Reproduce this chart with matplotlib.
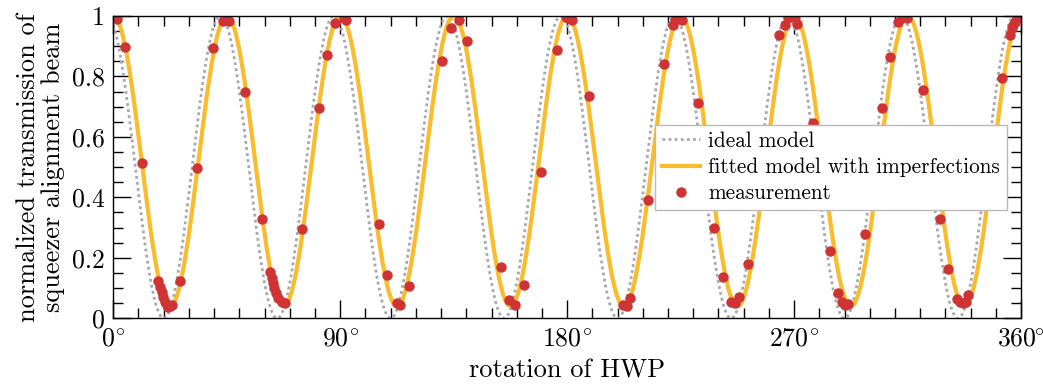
import numpy as np
import matplotlib
matplotlib.use("Agg")
import matplotlib.pyplot as plt
from matplotlib.ticker import MultipleLocator, FixedLocator, FixedFormatter

plt.rcParams['font.family'] = 'serif'
plt.rcParams['font.serif'] = ['cmr10']
plt.rcParams['mathtext.fontset'] = 'cm'
plt.rcParams['axes.formatter.use_mathtext'] = True

# measured points: HWP angle (deg) and normalized transmission
meas_angle = [0.0, 1.0, 1.5, 4.6, 11.3, 17.8, 18.5, 19.2, 19.8, 20.5, 21.2, 21.8, 22.5, 23.2,
              26.4, 33.1, 39.7, 43.6, 44.7, 46.0, 52.2, 59.1, 62.1, 62.8, 63.2, 63.7, 64.5,
              65.4, 66.8, 68.1, 74.9, 81.6, 84.9, 88.0, 91.5, 92.3, 105.4, 108.7, 112.4,
              113.7, 117.2, 130.5, 133.9, 137.2, 140.4, 153.6, 157.0, 159.3, 162.8, 169.5,
              175.8, 179.7, 180.4, 181.8, 188.8, 202.2, 203.6, 205.1, 211.9, 218.5, 221.8,
              222.7, 224.0, 225.4, 232.0, 238.3, 241.6, 244.8, 246.5, 248.2, 251.8, 264.1,
              266.3, 267.6, 269.0, 270.3, 271.2, 277.3, 284.2, 287.5, 288.8, 290.1, 291.4,
              298.1, 304.8, 308.0, 311.3, 312.6, 313.9, 314.6, 321.2, 327.8, 331.1, 334.4,
              335.7, 337.0, 338.1, 339.0, 352.5, 355.5, 356.2, 356.9, 357.5, 358.2, 359.2]
meas_trans = [1.0, 0.995, 0.99, 0.898, 0.514, 0.123, 0.105, 0.088, 0.071, 0.055, 0.044, 0.038,
              0.041, 0.044, 0.123, 0.496, 0.893, 0.984, 0.99, 0.983, 0.747, 0.327, 0.154, 0.132,
              0.116, 0.099, 0.083, 0.066, 0.055, 0.05, 0.295, 0.696, 0.87, 0.977, 0.992, 0.986,
              0.312, 0.143, 0.05, 0.044, 0.108, 0.851, 0.961, 0.986, 0.917, 0.169, 0.06, 0.044,
              0.11, 0.485, 0.887, 0.995, 0.992, 0.988, 0.735, 0.044, 0.041, 0.068, 0.391, 0.84,
              0.97, 0.986, 0.992, 0.986, 0.711, 0.3, 0.136, 0.055, 0.05, 0.071, 0.178, 0.937,
              0.97, 0.992, 0.999, 0.997, 0.975, 0.645, 0.222, 0.083, 0.055, 0.044, 0.047, 0.278,
              0.694, 0.865, 0.981, 0.992, 0.997, 0.992, 0.755, 0.327, 0.162, 0.063, 0.055, 0.05,
              0.055, 0.077, 0.795, 0.937, 0.959, 0.97, 0.981, 0.992, 0.999]

# model parameters
ideal_phase = -2.5      # deg
fit_phase = 0.0         # deg
fit_floor = 0.04

theta = np.linspace(0, 360, 2000)
ideal = np.cos(np.radians(4 * (theta - ideal_phase))) ** 2
fitted = fit_floor + (1 - fit_floor) * np.cos(np.radians(4 * (theta - fit_phase))) ** 2

xticks = [0, 90, 180, 270, 360]
xticklabels = [r'$0^{\!\circ}$', r'$90^{\!\circ}$', r'$180^{\!\circ}$', r'$270^{\!\circ}$', r'$360^{\!\!\circ}$']
yticks = [0, 0.2, 0.4, 0.6, 0.8, 1]
yticklabels = ['0', '0.2', '0.4', '0.6', '0.8', '1']

fig = plt.figure(figsize=(10.43, 3.87), dpi=100)
ax = fig.add_axes([0.1086, 0.1775, 0.8704, 0.7812])

ax.plot(theta, ideal, color='#a8a8a8', lw=2.0, ls=(0, (1, 1.2)), label='ideal model')
ax.plot(theta, fitted, color='#fbbc2c', lw=3.0, label='fitted model with imperfections')
ax.plot(meas_angle, meas_trans, 'o', color='#cf3333', ms=7.5, mec='none', label='measurement')

ax.set_xlim(0, 360)
ax.set_ylim(0, 1)
ax.xaxis.set_major_locator(FixedLocator(xticks))
ax.xaxis.set_major_formatter(FixedFormatter(xticklabels))
ax.xaxis.set_minor_locator(MultipleLocator(10))
ax.yaxis.set_major_locator(FixedLocator(yticks))
ax.yaxis.set_major_formatter(FixedFormatter(yticklabels))
ax.yaxis.set_minor_locator(MultipleLocator(0.05))
ax.tick_params(which='both', direction='in', top=True, right=True, labelsize=18.5, width=1.0)
ax.tick_params(which='major', length=13, pad=6)
ax.tick_params(which='minor', length=7)
for s in ax.spines.values():
    s.set_linewidth(1.0)

ax.set_xlabel('rotation of HWP', fontsize=19, labelpad=6)
ax.set_ylabel('normalized transmission of\nsqueezer alignment beam', fontsize=19,
              linespacing=1.05, labelpad=5)

leg = ax.legend(loc='upper left', bbox_to_anchor=(0.597, 0.64), borderaxespad=0,
                fontsize=15.3, fancybox=False, framealpha=1, edgecolor='#bbbbbb',
                handlelength=1.8, handletextpad=0.4, borderpad=0.3, labelspacing=0.32)
leg.get_frame().set_linewidth(1.0)

fig.savefig('out.png', dpi=100)
